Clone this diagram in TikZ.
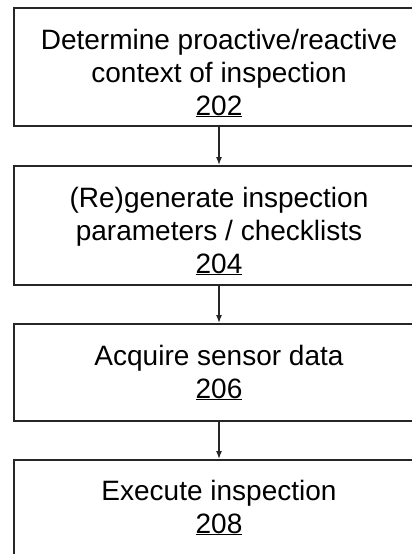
\documentclass[tikz,border=0pt]{standalone}
\usepackage{fontspec}
\setmainfont{Liberation Sans}
\usetikzlibrary{arrows.meta}

\tikzset{
  stepbox/.style={draw=black!85, line width=2pt, minimum width=410pt, inner sep=0pt},
  steptext/.style={font=\fontsize{28}{33}\selectfont, align=center, inner sep=0pt, anchor=base},
  flow/.style={draw=black!85, line width=1.2pt, -{Latex[length=8pt,width=6pt]}}
}

\begin{document}
\begin{tikzpicture}[x=1pt, y=1pt]
		\useasboundingbox (0,0) rectangle (412,-554);
		\clip (0,0) rectangle (412,-554);
		% boxes
		\node[stepbox, minimum height=118pt] (b1) at (219,-67) {};
		\node[stepbox, minimum height=119pt] (b2) at (219,-225.5) {};
		\node[stepbox, minimum height=97pt] (b3) at (219,-372.5) {};
		\node[stepbox, minimum height=120pt] (b4) at (219,-520) {};
		% texts (anchored at the last line)
		\node[steptext] (t1) at (219,-115) {Determine proactive/reactive\\context of inspection\\\underline{202}};
		\node[steptext] (t2) at (219,-273) {(Re)generate inspection\\parameters / checklists\\\underline{204}};
		\node[steptext] (t3) at (219,-398) {Acquire sensor data\\\underline{206}};
		\node[steptext] (t4) at (219,-533) {Execute inspection\\\underline{208}};
		% arrows
		\draw[flow] (b1.south) -- (b2.north);
		\draw[flow] (b2.south) -- (b3.north);
		\draw[flow] (b3.south) -- (b4.north);
\end{tikzpicture}
\end{document}
